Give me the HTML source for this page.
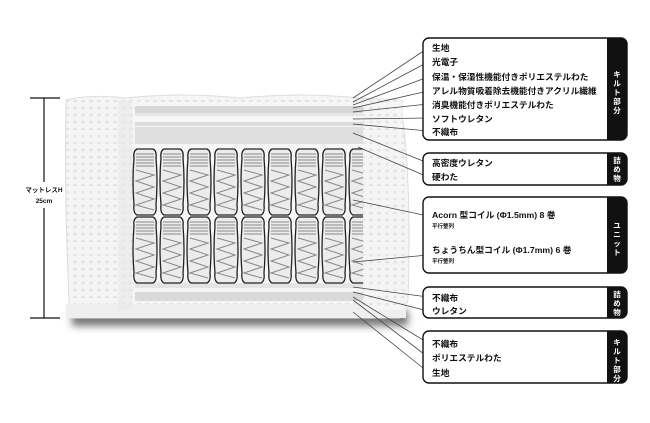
<!DOCTYPE html>
<html><head><meta charset="utf-8"><style>
body{margin:0;background:#fff;}
svg{display:block}
text{font-family:"Liberation Sans","Noto Sans CJK JP",sans-serif;font-weight:bold;fill:#111}
</style></head><body>
<svg width="650" height="423" viewBox="0 0 650 423" xmlns="http://www.w3.org/2000/svg">
<defs>
<filter id="sh" x="-10%" y="-50%" width="120%" height="200%"><feGaussianBlur stdDeviation="4"/></filter>
<pattern id="q" width="8" height="7" patternUnits="userSpaceOnUse">
<rect width="8" height="7" fill="#f5f5f5"/><ellipse cx="3" cy="3" rx="2" ry="1.3" fill="#e4e4e4"/></pattern>
<g id="coil">
<path d="M3,1 H19 Q23,3 22,10 Q24,33 22,57 Q23,65 19,67 H3 Q-1,65 0,57 Q-2,33 0,10 Q-1,3 3,1Z" fill="#ececec" stroke="#222" stroke-width="1.3"/>
<path d="M2,6 H20 M2,9 H20 M2,12 H20 M2,15 H20 M2,18 H20" stroke="#888" stroke-width="1"/>
<path d="M2,22 L20,27 L2,33 L20,39 L2,45 L20,51 L2,57 L20,62" fill="none" stroke="#888" stroke-width="1"/>
</g>
</defs>
<!-- dimension -->
<path d="M30,98 H60 M44,98 V182 M44,208 V318 M30,318 H60" stroke="#111" stroke-width="1.2"/>
<text x="44" y="192" font-size="6.5" text-anchor="middle">マットレスH</text>
<text x="44" y="203" font-size="6.5" text-anchor="middle">25cm</text>
<!-- mattress -->
<rect x="72" y="310" width="336" height="16" fill="#777" filter="url(#sh)"/>
<path d="M66,100 Q90,94 125,98 Q180,92 240,98 Q300,92 360,98 L400,100 Q412,170 408,300 L400,318 L70,318 Q64,210 66,100Z" fill="url(#q)" stroke="#ddd"/>
<rect x="66" y="304" width="340" height="14" fill="#efefef"/>
<rect x="118" y="100" width="14" height="210" fill="#e8e8e8" opacity=".6"/>
<!-- cross section -->
<rect x="135" y="102" width="228" height="200" fill="#f6f6f6"/>
<rect x="135" y="106" width="228" height="7" fill="#d6d6d6"/>
<rect x="135" y="113" width="228" height="3" fill="#e6e6e6"/>
<rect x="135" y="122" width="228" height="4" fill="#dcdcdc"/>
<rect x="135" y="127" width="228" height="17" fill="#dedede"/>
<rect x="135" y="283" width="228" height="5" fill="#e4e4e4"/>
<rect x="135" y="292" width="228" height="9" fill="#dadada"/>
<g>
<use href="#coil" x="134" y="148"/><use href="#coil" x="161" y="148"/><use href="#coil" x="188" y="148"/><use href="#coil" x="215" y="148"/><use href="#coil" x="242" y="148"/><use href="#coil" x="269" y="148"/><use href="#coil" x="296" y="148"/><use href="#coil" x="323" y="148"/><use href="#coil" x="350" y="148"/>
<use href="#coil" x="134" y="216"/><use href="#coil" x="161" y="216"/><use href="#coil" x="188" y="216"/><use href="#coil" x="215" y="216"/><use href="#coil" x="242" y="216"/><use href="#coil" x="269" y="216"/><use href="#coil" x="296" y="216"/><use href="#coil" x="323" y="216"/><use href="#coil" x="350" y="216"/>
</g>
<rect x="363" y="100" width="40" height="210" fill="url(#q)"/>
<!-- leaders -->
<g stroke="#444" stroke-width="0.8" fill="none">
<path d="M353,98 L428,48"/><path d="M353,102 L428,62"/><path d="M353,105 L428,77"/><path d="M353,108 L428,91"/><path d="M353,112 L428,104"/><path d="M353,119 L428,118"/><path d="M353,124 L428,131"/>
<path d="M353,133 L428,163"/><path d="M358,147 L428,177"/>
<path d="M353,200 L428,216"/><path d="M353,262 L428,255"/>
<path d="M353,287 L428,297"/><path d="M353,292 L428,311"/>
<path d="M353,297 L428,343"/><path d="M353,300 L428,357"/><path d="M353,312 L428,372"/>
</g>
<!-- boxes -->
<g stroke="#111" stroke-width="1.4" fill="#fff">
<rect x="423" y="38" width="204" height="102" rx="6"/>
<rect x="423" y="153" width="204" height="32" rx="6"/>
<rect x="423" y="197" width="204" height="76" rx="6"/>
<rect x="423" y="287" width="204" height="31" rx="6"/>
<rect x="423" y="331" width="204" height="52" rx="6"/>
</g>
<g fill="#111">
<path d="M607,38 H621 a6,6 0 0 1 6,6 V134 a6,6 0 0 1 -6,6 H607Z"/>
<path d="M607,153 H621 a6,6 0 0 1 6,6 V179 a6,6 0 0 1 -6,6 H607Z"/>
<path d="M607,197 H621 a6,6 0 0 1 6,6 V267 a6,6 0 0 1 -6,6 H607Z"/>
<path d="M607,287 H621 a6,6 0 0 1 6,6 V312 a6,6 0 0 1 -6,6 H607Z"/>
<path d="M607,331 H621 a6,6 0 0 1 6,6 V377 a6,6 0 0 1 -6,6 H607Z"/>
</g>
<g font-size="7.5" text-anchor="middle">
<text x="617" y="77" style="fill:#fff">キ</text><text x="617" y="86" style="fill:#fff">ル</text><text x="617" y="95" style="fill:#fff">ト</text><text x="617" y="104" style="fill:#fff">部</text><text x="617" y="113" style="fill:#fff">分</text>
<text x="617" y="163" style="fill:#fff">詰</text><text x="617" y="172" style="fill:#fff">め</text><text x="617" y="181" style="fill:#fff">物</text>
<text x="617" y="228" style="fill:#fff">ユ</text><text x="617" y="237" style="fill:#fff">ニ</text><text x="617" y="246" style="fill:#fff">ッ</text><text x="617" y="255" style="fill:#fff">ト</text>
<text x="617" y="297" style="fill:#fff">詰</text><text x="617" y="306" style="fill:#fff">め</text><text x="617" y="315" style="fill:#fff">物</text>
<text x="617" y="345" style="fill:#fff">キ</text><text x="617" y="354" style="fill:#fff">ル</text><text x="617" y="363" style="fill:#fff">ト</text><text x="617" y="372" style="fill:#fff">部</text><text x="617" y="381" style="fill:#fff">分</text>
</g>
<g font-size="8.7">
<text x="432" y="51">生地</text>
<text x="432" y="65">光電子</text>
<text x="432" y="80">保温・保湿性機能付きポリエステルわた</text>
<text x="432" y="94">アレル物質吸着除去機能付きアクリル繊維</text>
<text x="432" y="108">消臭機能付きポリエステルわた</text>
<text x="432" y="122">ソフトウレタン</text>
<text x="432" y="135">不織布</text>
<text x="432" y="166">高密度ウレタン</text>
<text x="432" y="180">硬わた</text>
<text x="432" y="218">Acorn 型コイル (Φ1.5mm) 8 巻</text>
<text x="432" y="253">ちょうちん型コイル (Φ1.7mm) 6 巻</text>
<text x="432" y="301">不織布</text>
<text x="432" y="314">ウレタン</text>
<text x="432" y="347">不織布</text>
<text x="432" y="361">ポリエステルわた</text>
<text x="432" y="376">生地</text>
</g>
<g font-size="5.5">
<text x="432" y="228">平行整列</text>
<text x="432" y="263">平行整列</text>
</g>
</svg>
</body></html>
